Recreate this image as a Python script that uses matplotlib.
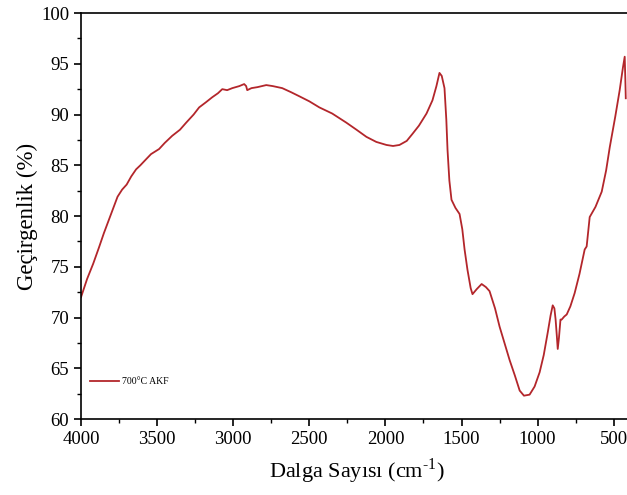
import matplotlib.pyplot as plt
from matplotlib.ticker import MultipleLocator

plt.rcParams['font.family'] = ['Liberation Serif', 'DejaVu Serif']

# FTIR spektrumu (okunan degerler)
wavenumber = [4000, 3960, 3920, 3882, 3850, 3800, 3760, 3730, 3700, 3670, 3638, 3610,
              3572, 3540, 3487, 3450, 3401, 3350, 3309, 3260, 3224, 3180, 3138, 3100,
              3072, 3040, 3006, 2960, 2928, 2915, 2908, 2880, 2840, 2783, 2740, 2678,
              2620, 2566, 2500, 2434, 2350, 2257, 2190, 2125, 2060, 1993, 1950, 1908,
              1860, 1822, 1780, 1730, 1691, 1665, 1645, 1630, 1612, 1600, 1592, 1580,
              1566, 1540, 1513, 1495, 1480, 1461, 1440, 1428, 1400, 1368, 1340, 1316,
              1280, 1250, 1220, 1184, 1150, 1118, 1090, 1053, 1020, 987, 960, 934,
              915, 901, 890, 882, 874, 868, 860, 850, 842, 825, 809, 785, 757, 725,
              691, 678, 658, 620, 579, 550, 526, 490, 461, 440, 428, 424, 421]
transmittance = [72.0, 73.8, 75.3, 76.9, 78.3, 80.3, 81.9, 82.6, 83.1, 83.9, 84.6, 85.0,
                 85.6, 86.1, 86.6, 87.2, 87.9, 88.5, 89.2, 90.0, 90.7, 91.2, 91.7, 92.1,
                 92.5, 92.4, 92.6, 92.8, 93.0, 92.8, 92.4, 92.6, 92.7, 92.9, 92.8, 92.6,
                 92.2, 91.8, 91.3, 90.7, 90.1, 89.2, 88.5, 87.8, 87.3, 87.0, 86.9, 87.0,
                 87.4, 88.1, 88.9, 90.1, 91.4, 92.8, 94.1, 93.8, 92.6, 89.5, 86.5, 83.5,
                 81.6, 80.8, 80.2, 78.7, 76.7, 74.7, 72.9, 72.3, 72.8, 73.3, 73.0, 72.6,
                 70.9, 69.1, 67.6, 65.8, 64.3, 62.8, 62.3, 62.4, 63.2, 64.6, 66.3, 68.5,
                 70.2, 71.2, 70.9, 69.8, 68.2, 66.9, 68.0, 69.8, 69.8, 70.1, 70.3, 71.1,
                 72.4, 74.3, 76.7, 77.0, 79.9, 80.9, 82.4, 84.5, 86.8, 89.8, 92.4, 94.6,
                 95.7, 93.5, 91.6]

fig = plt.figure(figsize=(6.27, 4.95), dpi=100)
ax = fig.add_axes([0.1292, 0.1535, 0.8788, 0.8202])

ax.plot(wavenumber, transmittance, color='#b3262b', lw=1.3, label='700°C AKF')

ax.set_xlim(4000, 380)
ax.set_ylim(60, 100)
ax.xaxis.set_major_locator(MultipleLocator(500))
ax.xaxis.set_minor_locator(MultipleLocator(250))
ax.yaxis.set_major_locator(MultipleLocator(5))
ax.yaxis.set_minor_locator(MultipleLocator(2.5))
ax.tick_params(which='major', direction='out', length=5, width=1.2, labelsize=13.5)
ax.tick_params(which='minor', direction='out', length=3, width=1.0)
for s in ax.spines.values():
    s.set_linewidth(1.2)

ax.set_xlabel('Dalga Sayısı (cm$^{\\mathregular{-1}}$)'.replace('-1', '\u2010\u0031'),
              fontsize=16, labelpad=6)
ax.set_ylabel('Geçirgenlik (%)', fontsize=16.5, labelpad=2)

ax.legend(loc='lower left', bbox_to_anchor=(0.0, 0.06), frameon=False,
          fontsize=7, handlelength=3.0, handletextpad=0.3)

fig.savefig('out.png', dpi=100)
